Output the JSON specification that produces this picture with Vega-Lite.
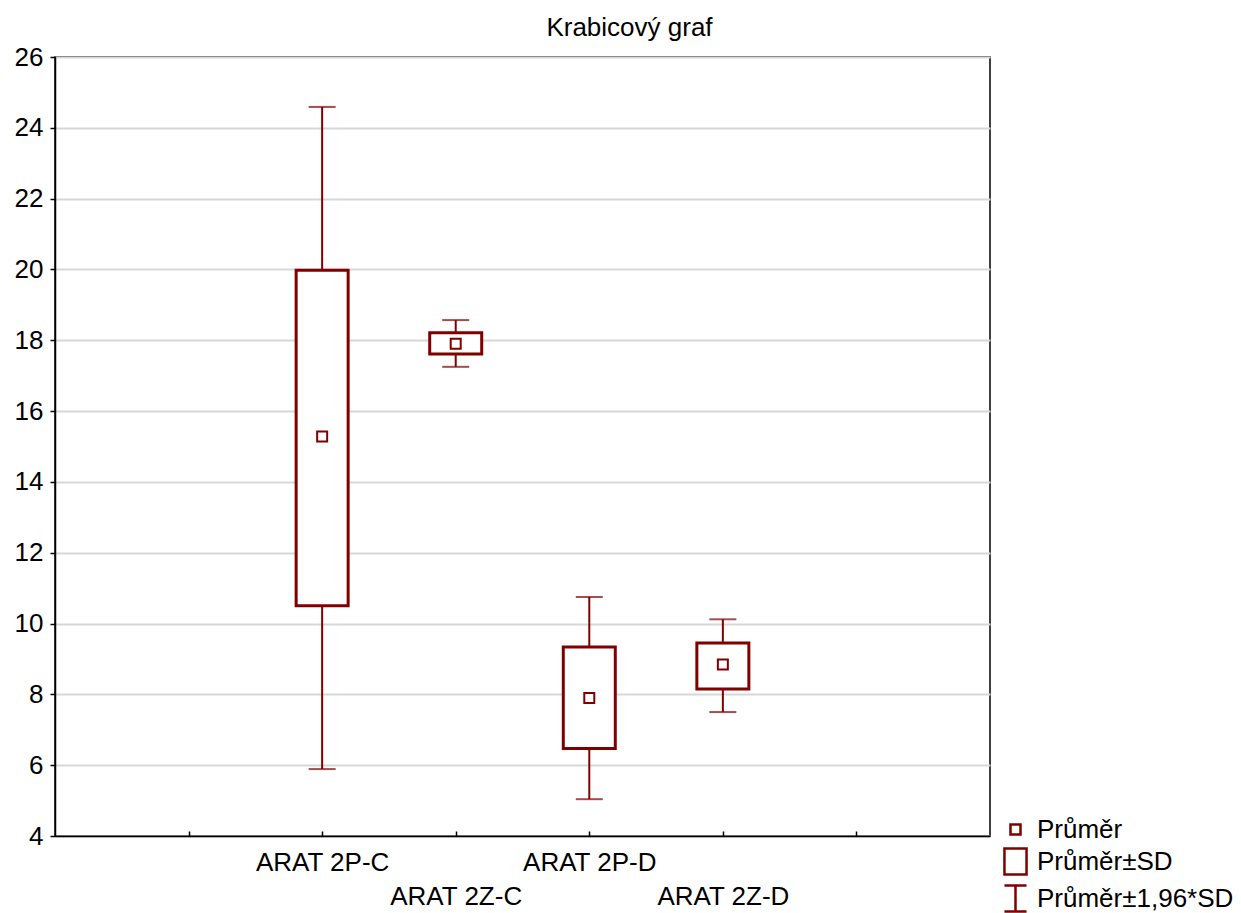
{
  "$schema": "https://vega.github.io/schema/vega-lite/v6.json",
  "autosize": {"type": "none"},
  "padding": {"left": 55, "top": 57, "right": 251, "bottom": 77},
  "width": 935,
  "height": 779,
  "background": "white",
  "title": {
    "text": "Krabicový graf",
    "font": "Liberation Sans",
    "fontSize": 26,
    "fontWeight": "normal",
    "color": "black",
    "baseline": "bottom",
    "offset": -23,
    "dx": 107
  },
  "data": {
    "values": [
      {"cat": "ARAT 2P-C", "mean": 15.28, "sd_lo": 10.5, "sd_hi": 19.98, "ci_lo": 5.89, "ci_hi": 24.59},
      {"cat": "ARAT 2Z-C", "mean": 17.9, "sd_lo": 17.61, "sd_hi": 18.21, "ci_lo": 17.25, "ci_hi": 18.57},
      {"cat": "ARAT 2P-D", "mean": 7.9, "sd_lo": 6.47, "sd_hi": 9.34, "ci_lo": 5.04, "ci_hi": 10.75},
      {"cat": "ARAT 2Z-D", "mean": 8.84, "sd_lo": 8.15, "sd_hi": 9.45, "ci_lo": 7.5, "ci_hi": 10.12}
    ]
  },
  "encoding": {
    "x": {
      "field": "cat",
      "type": "nominal",
      "scale": {"type": "point", "domain": [" ", "ARAT 2P-C", "ARAT 2Z-C", "ARAT 2P-D", "ARAT 2Z-D", "  "], "padding": 1},
      "axis": {
        "title": null,
        "grid": false,
        "domainColor": "black",
        "domainWidth": 1.5,
        "tickColor": "black",
        "tickSize": -5,
        "tickWidth": 1.5,
        "labelAngle": 0,
        "labelFont": "Liberation Sans",
        "labelFontSize": 26,
        "labelColor": "black",
        "labelPadding": 18,
        "labelLineHeight": 34,
        "labelExpr": "(datum.value == 'ARAT 2Z-C' || datum.value == 'ARAT 2Z-D') ? ['', datum.value] : (trim(datum.value) == '' ? '' : datum.value)"
      }
    }
  },
  "layer": [
    {
      "mark": {"type": "rule", "color": "#800000", "strokeWidth": 2},
      "encoding": {
        "y": {
          "field": "ci_lo",
          "type": "quantitative",
          "scale": {"domain": [4, 26], "nice": false, "zero": false},
          "axis": {
            "title": null,
            "values": [4, 6, 8, 10, 12, 14, 16, 18, 20, 22, 24, 26],
            "grid": true,
            "gridColor": "#d7d7d7",
            "gridWidth": 2,
            "domainColor": "black",
            "domainWidth": 1.5,
            "tickColor": "black",
            "tickSize": 5,
            "tickWidth": 1.5,
            "labelFont": "Liberation Sans",
            "labelFontSize": 26,
            "labelColor": "black",
            "labelPadding": 7
          }
        },
        "y2": {"field": "ci_hi"}
      }
    },
    {
      "mark": {"type": "tick", "color": "#800000", "thickness": 2, "size": 27},
      "encoding": {"y": {"field": "ci_lo", "type": "quantitative"}}
    },
    {
      "mark": {"type": "tick", "color": "#800000", "thickness": 2, "size": 27},
      "encoding": {"y": {"field": "ci_hi", "type": "quantitative"}}
    },
    {
      "mark": {"type": "bar", "width": 52, "fill": "white", "stroke": "#800000", "strokeWidth": 3},
      "encoding": {
        "y": {"field": "sd_lo", "type": "quantitative"},
        "y2": {"field": "sd_hi"}
      }
    },
    {
      "mark": {"type": "point", "filled": false, "color": "#800000", "strokeWidth": 2, "size": 1156, "opacity": 1},
      "encoding": {
        "y": {"field": "mean", "type": "quantitative"},
        "shape": {
          "datum": "Průměr",
          "type": "nominal",
          "scale": {
            "domain": ["Průměr", "Průměr±SD", "Průměr±1,96*SD"],
            "range": [
              "M-0.294,-0.294H0.294V0.294H-0.294Z",
              "M-0.65,-0.76H0.65V0.76H-0.65Z",
              "M-0.65,-0.76H0.65M0,-0.76V0.76M-0.65,0.76H0.65"
            ]
          },
          "legend": {
            "title": null,
            "orient": "none",
            "legendX": 942,
            "legendY": 754,
            "padding": 0,
            "rowPadding": 0,
            "symbolSize": 1156,
            "symbolStrokeColor": "#800000",
            "symbolFillColor": "transparent",
            "symbolStrokeWidth": 2.5,
            "symbolOpacity": 1,
            "labelFont": "Liberation Sans",
            "labelFontSize": 26,
            "labelColor": "black",
            "labelOffset": 3,
            "labelLimit": 0
          }
        }
      }
    }
  ],
  "config": {
    "view": {"stroke": "black", "strokeWidth": 1.5}
  }
}
